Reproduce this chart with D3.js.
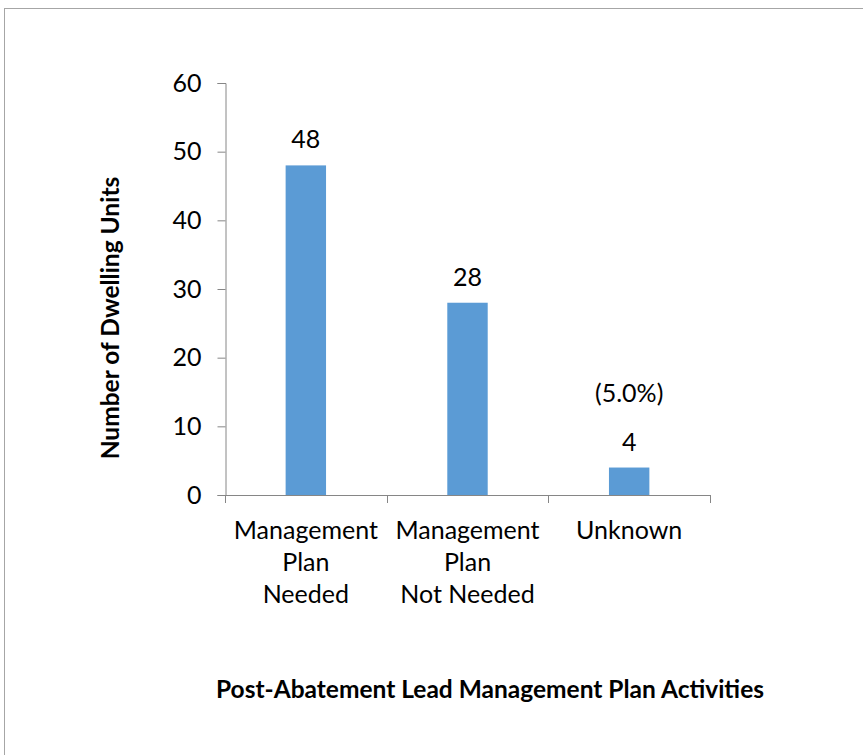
<!DOCTYPE html>
<html>
<head>
<meta charset="utf-8">
<script src="https://cdn.jsdelivr.net/npm/d3@7"></script>
<style>
  html, body { margin: 0; padding: 0; background: #fff; }
  svg { display: block; }
  text { font-family: Lato, "Open Sans", sans-serif; fill: #000; }
</style>
</head>
<body>
<svg id="chart" width="863" height="755"></svg>
<script>
// Chart data
const categories = [
  ["Management", "Plan", "Needed"],
  ["Management", "Plan", "Not Needed"],
  ["Unknown"]
];
const values = [48, 28, 4];
const extraLabels = ["", "", "(5.0%)"];
const yTicks = [0, 10, 20, 30, 40, 50, 60];
const yTitle = "Number of Dwelling Units";
const xTitle = "Post-Abatement Lead Management Plan Activities";

const svg = d3.select("#chart");
const axisColor = "#868686";
const barColor = "#5B9BD5";
const labelSize = 25;
const titleSize = 24.5;

// Outer frame of the chart area
svg.append("rect")
  .attr("x", 4.5).attr("y", 8.5)
  .attr("width", 900).attr("height", 800)
  .attr("fill", "none").attr("stroke", "#a6a6a6").attr("stroke-width", 1);

const plotLeft = 225, plotRight = 710, plotTop = 83, plotBottom = 495;
const keys = categories.map((c, i) => i);

const x = d3.scaleBand().domain(keys).range([plotLeft, plotRight])
  .paddingInner(0.75).paddingOuter(0.375);
const y = d3.scaleLinear().domain([0, 60]).range([plotBottom, plotTop]);

// Y axis
const yAxis = svg.append("g")
  .attr("transform", `translate(${plotLeft + 0.5},0)`)
  .call(d3.axisLeft(y).tickValues(yTicks).tickSize(8).tickPadding(16).tickFormat(d3.format("d")));
yAxis.select(".domain").attr("stroke", axisColor);
yAxis.selectAll(".tick line").attr("stroke", axisColor);
yAxis.selectAll(".tick text").attr("font-size", labelSize).attr("font-family", "Lato, sans-serif").attr("fill", "#000");

// Bars
svg.append("g").selectAll("rect")
  .data(values)
  .join("rect")
  .attr("x", (d, i) => x(i))
  .attr("width", x.bandwidth())
  .attr("y", d => y(d))
  .attr("height", d => y(0) - y(d))
  .attr("fill", barColor);

// X axis line and boundary ticks between categories
const step = x.step();
const boundaries = d3.range(keys.length + 1).map(i => plotLeft + i * step);
svg.append("line")
  .attr("x1", plotLeft).attr("x2", plotRight)
  .attr("y1", plotBottom + 0.5).attr("y2", plotBottom + 0.5)
  .attr("stroke", axisColor);
svg.append("g").selectAll("line")
  .data(boundaries)
  .join("line")
  .attr("x1", d => Math.round(d) + 0.5).attr("x2", d => Math.round(d) + 0.5)
  .attr("y1", plotBottom).attr("y2", plotBottom + 8)
  .attr("stroke", axisColor);

// Category labels
const catG = svg.append("g");
categories.forEach((lines, i) => {
  const cx = x(i) + x.bandwidth() / 2;
  const t = catG.append("text")
    .attr("text-anchor", "middle")
    .attr("font-size", labelSize)
    .attr("x", cx)
    .attr("y", 539);
  lines.forEach((ln, j) => {
    t.append("tspan")
      .attr("x", cx)
      .attr("dy", j === 0 ? 0 : 32)
      .text(ln);
  });
});

// Value labels
svg.append("g").selectAll("text")
  .data(values)
  .join("text")
  .attr("text-anchor", "middle")
  .attr("font-size", labelSize)
  .attr("x", (d, i) => x(i) + x.bandwidth() / 2)
  .attr("y", d => y(d) - 17)
  .text(d => d);

svg.append("g").selectAll("text")
  .data(extraLabels.map((t, i) => ({ t, v: values[i], i })).filter(d => d.t))
  .join("text")
  .attr("text-anchor", "middle")
  .attr("font-size", labelSize)
  .attr("x", d => x(d.i) + x.bandwidth() / 2)
  .attr("y", d => y(d.v) - 66)
  .text(d => d.t);

// Axis titles
svg.append("text")
  .attr("transform", "translate(119,318) rotate(-90)")
  .attr("text-anchor", "middle")
  .attr("font-size", titleSize)
  .attr("font-weight", "bold")
  .text(yTitle);

svg.append("text")
  .attr("x", 490).attr("y", 698)
  .attr("text-anchor", "middle")
  .attr("font-size", titleSize)
  .attr("font-weight", "bold")
  .text(xTitle);
</script>
</body>
</html>
